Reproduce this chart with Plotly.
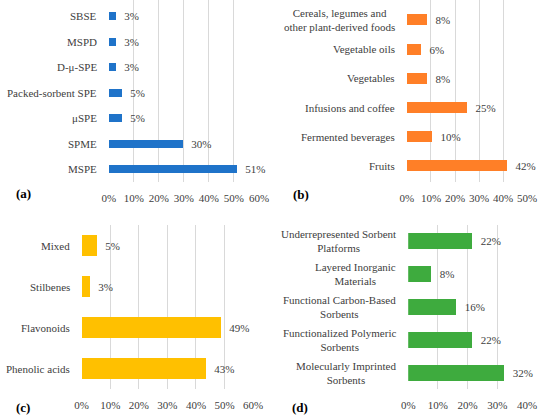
import plotly.graph_objects as go

# ---- data (top-to-bottom as drawn) ----
a_cats = ["SBSE", "MSPD", "D-μ-SPE", "Packed-sorbent SPE", "μSPE", "SPME", "MSPE"]
a_vals = [2.6, 2.6, 2.6, 5.1, 5.1, 29.7, 51.3]
a_ticks = [0, 10, 20, 30, 40, 50, 60]

b_cats = ["Cereals, legumes and<br>other plant-derived foods", "Vegetable oils", "Vegetables",
          "Infusions and coffee", "Fermented beverages", "Fruits"]
b_vals = [8.4, 6.0, 8.4, 24.8, 10.3, 41.6]
b_ticks = [0, 10, 20, 30, 40, 50]

c_cats = ["Mixed", "Stilbenes", "Flavonoids", "Phenolic acids"]
c_vals = [5.4, 2.8, 48.6, 43.2]
c_ticks = [0, 10, 20, 30, 40, 50, 60]

d_cats = ["Underrepresented Sorbent<br>Platforms", "Layered Inorganic<br>Materials",
          "Functional Carbon-Based<br>Sorbents", "Functionalized Polymeric<br>Sorbents",
          "Molecularly Imprinted<br>Sorbents"]
d_vals = [21.6, 7.9, 16.1, 21.6, 32.3]
d_ticks = [0, 10, 20, 30, 40]

panel_letters = ["(a)", "(b)", "(c)", "(d)"]

W, H = 550, 417
FONT = "Liberation Serif"
FS = 11
TXT = "#404040"
GRID = "#d9d9d9"

def px_x(p):
    return p / W

def px_y(p):
    return 1 - p / H

panels = [
    # cats, vals, ticks, color, bar width, x-domain px, y-domain px, y range
    (a_cats, a_vals, a_ticks, "#1f73c9", 0.31, (105, 260), (0, 182), (6.5, -0.63)),
    (b_cats, b_vals, b_ticks, "#ff7f27", 0.38, (412.7, 536.7), (0, 182), (5.55, -0.68)),
    (c_cats, c_vals, c_ticks, "#ffc000", 0.49, (77, 254), (225, 389), (3.5, -0.5)),
    (d_cats, d_vals, d_ticks, "#3eab3e", 0.49, (414, 536.7), (225, 389), (4.5, -0.5)),
]

fig = go.Figure()
annotations = []
for i, (cats, vals, ticks, color, bw, xd, yd, yr) in enumerate(panels):
    n = "" if i == 0 else str(i + 1)
    fig.add_trace(go.Bar(
        x=vals, y=cats, orientation="h", width=bw,
        marker=dict(color=color, line=dict(width=0)),
        text=vals, texttemplate="\u00a0\u00a0%{x:.0f}%", textposition="outside",
        textfont=dict(family=FONT, size=FS, color=TXT), constraintext="none",
        cliponaxis=False, showlegend=False,
        xaxis="x" + n, yaxis="y" + n,
    ))
    fig.update_layout(**{
        "xaxis" + n: dict(
            domain=[px_x(xd[0]), px_x(xd[1])], range=[ticks[0], ticks[-1]],
            tickvals=ticks, ticktext=[f"{t}%" for t in ticks],
            showgrid=True, gridcolor=GRID, gridwidth=1,
            zeroline=False, showline=False, ticks="",
            tickfont=dict(family=FONT, size=FS, color=TXT),
            anchor="y" + n, fixedrange=True, ticklabelstandoff=8,
        ),
        "yaxis" + n: dict(
            domain=[px_y(yd[1]), px_y(yd[0])], range=list(yr),
            type="category", showticklabels=False, showgrid=False,
            zeroline=False, showline=False, ticks="",
            anchor="x" + n, fixedrange=True,
        ),
    })
    for c in cats:
        annotations.append(dict(
            x=0, xref=("x" + n + " domain"), y=c, yref="y" + n,
            xanchor="right", yanchor="middle", xshift=-10, align="center",
            text=c, showarrow=False,
            font=dict(family=FONT, size=FS, color=TXT),
        ))

letter_pos = [(7, 193), (293, 194), (7, 407), (292, 407)]
for lab, (lx, ly) in zip(panel_letters, letter_pos):
    annotations.append(dict(
        x=px_x(lx), y=px_y(ly), xref="paper", yref="paper",
        xanchor="left", yanchor="middle", text=f"<b>{lab}</b>",
        showarrow=False, font=dict(family=FONT, size=13, color="#000000"),
    ))

fig.update_layout(
    width=W, height=H, margin=dict(l=0, r=0, t=0, b=0),
    paper_bgcolor="white", plot_bgcolor="white",
    annotations=annotations, bargap=0,
    font=dict(family=FONT),
)

fig.write_html(
    "out.html",
    config={"displayModeBar": False},
    post_script="document.body.style.margin='0';document.body.style.overflow='hidden';",
)
